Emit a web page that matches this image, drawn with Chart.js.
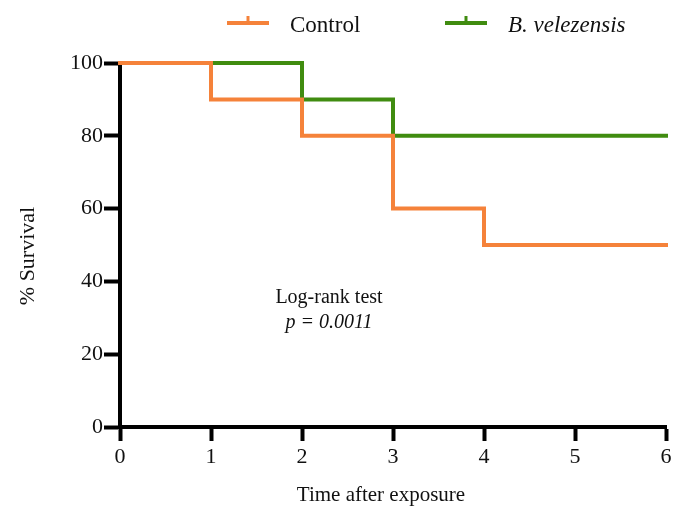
<!DOCTYPE html>
<html>
<head>
<meta charset="utf-8">
<script src="https://cdn.jsdelivr.net/npm/chart.js@4.4.1/dist/chart.umd.min.js"></script>
<style>
  html, body { margin: 0; padding: 0; background: #fff; }
  #wrap { width: 684px; height: 511px; }
</style>
</head>
<body>
<div id="wrap"><canvas id="chart" width="684" height="511"></canvas></div>
<script>
/* ---------- data ---------- */
var seriesNames = ['Control', 'B. velezensis'];
var controlTimes = [0, 1, 2, 3, 4, 6];
var controlSurvival = [100, 90, 80, 60, 50, 50];
var bvTimes = [0, 2, 3, 6];
var bvSurvival = [100, 90, 80, 80];
var xTicks = [0, 1, 2, 3, 4, 5, 6];
var yTicks = [0, 20, 40, 60, 80, 100];
var xTitle = 'Time after exposure';
var yTitle = '% Survival';
var noteLines = ['Log-rank test', 'p = 0.0011'];

var ORANGE = '#f5823a';
var GREEN = '#408c10';
var SERIF = "'Liberation Serif', 'Times New Roman', serif";

function points(xs, ys) {
  return xs.map(function (x, i) { return { x: x, y: ys[i] }; });
}

/* ---------- legend: line with a small upward tick, italic species name ---------- */
var legendPlugin = {
  id: 'kmLegend',
  afterDraw: function (chart) {
    var ctx = chart.ctx;
    var items = [
      { x: 227, color: ORANGE, label: seriesNames[0], italic: false },
      { x: 445, color: GREEN, label: seriesNames[1], italic: true }
    ];
    ctx.save();
    items.forEach(function (it) {
      ctx.strokeStyle = it.color;
      ctx.lineWidth = 4;
      ctx.lineCap = 'butt';
      ctx.beginPath();
      ctx.moveTo(it.x, 23);
      ctx.lineTo(it.x + 42, 23);
      ctx.stroke();
      ctx.lineWidth = 3;
      ctx.beginPath();
      ctx.moveTo(it.x + 21, 23);
      ctx.lineTo(it.x + 21, 16);
      ctx.stroke();
      ctx.fillStyle = '#111';
      ctx.font = (it.italic ? 'italic ' : '') + '23px ' + SERIF;
      ctx.textBaseline = 'alphabetic';
      ctx.textAlign = 'left';
      ctx.fillText(it.label, it.x + 63, 32);
    });
    ctx.restore();
  }
};

/* ---------- axis titles + log-rank annotation ---------- */
var textPlugin = {
  id: 'kmText',
  afterDatasetsDraw: function (chart) {
    var ctx = chart.ctx;
    ctx.save();
    ctx.fillStyle = '#111';
    ctx.textAlign = 'center';
    ctx.textBaseline = 'middle';
    ctx.font = '20px ' + SERIF;
    ctx.fillText(noteLines[0], 329, 298);
    ctx.font = 'italic 20px ' + SERIF;
    ctx.fillText(noteLines[1], 329, 323);

    ctx.font = '21px ' + SERIF;
    ctx.fillText(xTitle, 381, 495);

    ctx.translate(28, 256);
    ctx.rotate(-Math.PI / 2);
    ctx.font = '22px ' + SERIF;
    ctx.fillText(yTitle, 0, 0);
    ctx.restore();
  }
};

new Chart(document.getElementById('chart'), {
  type: 'line',
  data: {
    datasets: [
      {
        label: seriesNames[0], data: points(controlTimes, controlSurvival),
        borderColor: ORANGE, borderWidth: 4, stepped: true,
        pointRadius: 0, fill: false, clip: false, borderCapStyle: 'square'
      },
      {
        label: seriesNames[1], data: points(bvTimes, bvSurvival),
        borderColor: GREEN, borderWidth: 4, stepped: true,
        pointRadius: 0, fill: false, clip: false, borderCapStyle: 'square'
      }
    ]
  },
  options: {
    responsive: false,
    animation: false,
    devicePixelRatio: 1,
    layout: { padding: { top: 63, right: 18, left: 0, bottom: 0 } },
    plugins: {
      legend: { display: false },
      tooltip: { enabled: false }
    },
    scales: {
      x: {
        type: 'linear', min: 0, max: 6,
        afterBuildTicks: function (s) { s.ticks = xTicks.map(function (v) { return { value: v }; }); },
        afterFit: function (s) { s.height = 84; },
        grid: { drawOnChartArea: false, drawTicks: true, tickLength: 14, tickWidth: 4, tickColor: '#000' },
        border: { display: true, width: 4, color: '#000' },
        ticks: { color: '#111', padding: 3, font: { family: SERIF, size: 22 } }
      },
      y: {
        type: 'linear', min: 0, max: 100,
        afterBuildTicks: function (s) { s.ticks = yTicks.map(function (v) { return { value: v }; }); },
        afterFit: function (s) { s.width = 120; },
        grid: { drawOnChartArea: false, drawTicks: true, tickLength: 16, tickWidth: 4, tickColor: '#000' },
        border: { display: true, width: 4, color: '#000' },
        ticks: { color: '#111', padding: 1, font: { family: SERIF, size: 22 } }
      }
    }
  },
  plugins: [legendPlugin, textPlugin]
});
</script>
</body>
</html>
